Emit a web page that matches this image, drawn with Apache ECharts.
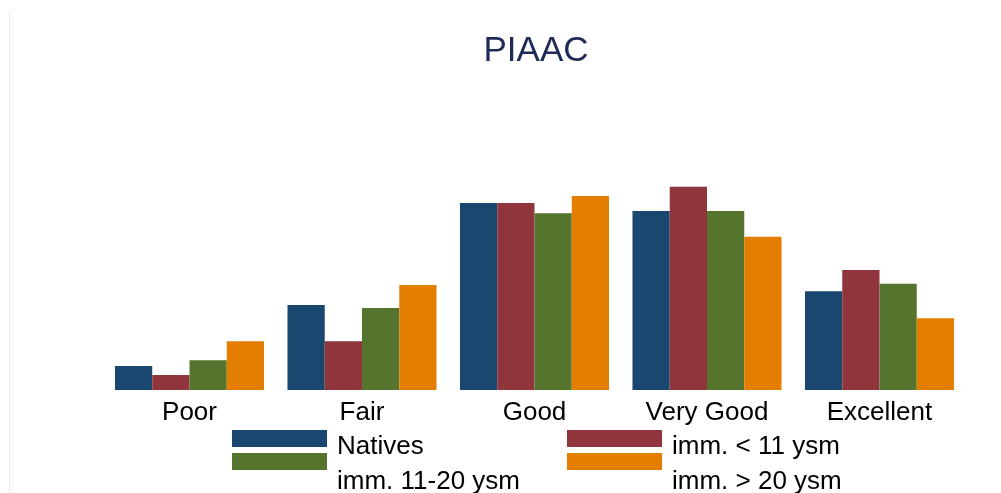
<!DOCTYPE html>
<html>
<head>
<meta charset="utf-8">
<script src="https://cdn.jsdelivr.net/npm/echarts@6/dist/echarts.min.js"></script>
<style>
  html, body { margin: 0; padding: 0; background: #fff; }
  #main { width: 1001px; height: 493px; }
</style>
</head>
<body>
<div id="main"></div>
<script>
// self-rated health categories
var categories = ['Poor', 'Fair', 'Good', 'Very Good', 'Excellent'];
var seriesNames = ['Natives', 'imm. < 11 ysm', 'imm. 11-20 ysm', 'imm. > 20 ysm'];
// shares in %
var natives = [4.2, 14.8, 32.6, 31.2, 17.2];
var immLt11 = [2.6, 8.5, 32.6, 35.4, 20.9];
var imm11to20 = [5.2, 14.3, 30.8, 31.2, 18.5];
var immGt20 = [8.5, 18.3, 33.8, 26.7, 12.5];

var colors = ['#1a476f', '#90353b', '#55752f', '#e37e00'];
var font = '"Liberation Sans", Arial, sans-serif';

var myChart = echarts.init(document.getElementById('main'));

// swatch sits at the top of a taller (empty) icon box so the label lands lower, like stata does
function legendItem(name, left, top, boxH) {
    return {
        data: [name],
        left: left,
        top: top,
        padding: 0,
        itemWidth: 95,
        itemHeight: boxH,
        icon: 'path://M0,0H95V17H0Z M0,' + boxH,
        selectedMode: false,
        textStyle: {
            fontFamily: font,
            fontSize: 26,
            color: '#000',
            padding: [0, 0, 0, 5]
        }
    };
}

myChart.setOption({
    color: colors,
    animation: false,
    graphic: [
        {
            type: 'line',
            shape: { x1: 9.5, y1: 11, x2: 9.5, y2: 493 },
            style: { stroke: '#eaeaea', lineWidth: 1 }
        },
        {
            type: 'text',
            x: 536,
            y: 34,
            style: {
                text: 'PIAAC',
                fontFamily: font,
                fontSize: 35,
                fill: '#1e2b58',
                align: 'center'
            }
        }
    ],
    legend: [
        legendItem(seriesNames[0], 232, 430, 34),
        legendItem(seriesNames[2], 232, 453, 58),
        legendItem(seriesNames[1], 567, 430, 34),
        legendItem(seriesNames[3], 567, 453, 58)
    ],
    grid: {
        left: 103.25,
        right: 35.25,
        top: 160.4,
        bottom: 103,
        containLabel: false
    },
    xAxis: {
        type: 'category',
        data: categories,
        axisLine: { show: false },
        axisTick: { show: false },
        axisLabel: {
            margin: 10,
            fontFamily: font,
            fontSize: 26,
            color: '#000',
            interval: 0
        }
    },
    yAxis: {
        type: 'value',
        min: 0,
        max: 40,
        show: false,
        splitLine: { show: false }
    },
    series: [
        { name: seriesNames[0], type: 'bar', data: natives, barGap: '0%', barCategoryGap: '13.6%' },
        { name: seriesNames[1], type: 'bar', data: immLt11, barGap: '0%', barCategoryGap: '13.6%' },
        { name: seriesNames[2], type: 'bar', data: imm11to20, barGap: '0%', barCategoryGap: '13.6%' },
        { name: seriesNames[3], type: 'bar', data: immGt20, barGap: '0%', barCategoryGap: '13.6%' }
    ]
});
</script>
</body>
</html>
